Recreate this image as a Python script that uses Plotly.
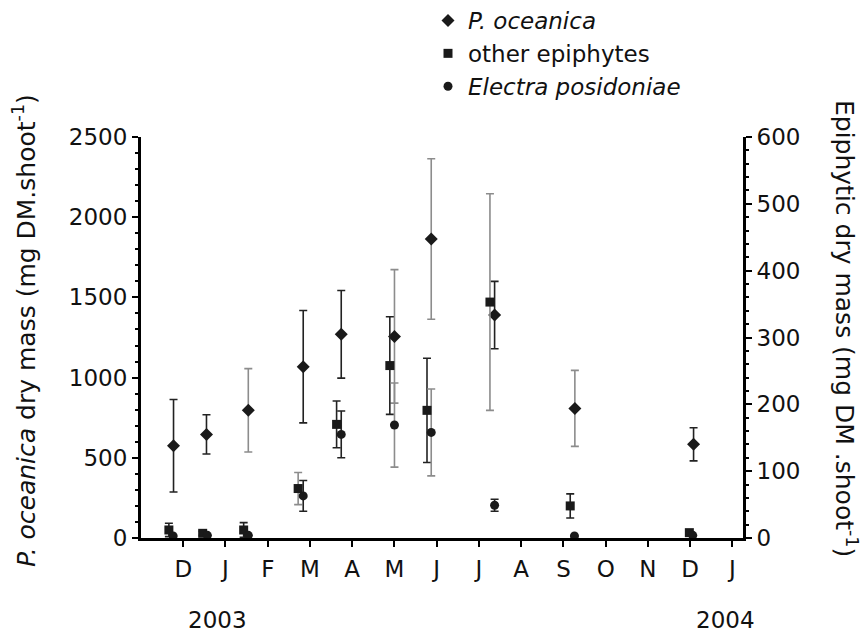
import plotly.graph_objects as go

# ---------------- data ----------------
month_ticks = list(range(1, 15))
month_labels = ["D", "J", "F", "M", "A", "M", "J", "J", "A", "S", "O", "N", "D", "J"]
year_labels = ["2003", "2004"]

# P. oceanica (left axis, mg DM.shoot-1)
poc_x = [0.77, 1.55, 2.54, 3.84, 4.74, 6.00, 6.87, 8.37, 10.27, 13.08]
poc_y = [575, 646, 796, 1068, 1270, 1257, 1864, 1390, 808, 584]
poc_err = [288, 122, 260, 350, 273, 416, 500, 210, 237, 103]

# other epiphytes (right axis)
oth_x = [0.66, 1.46, 2.43, 3.72, 4.63, 5.89, 6.77, 8.26, 10.16, 12.98]
oth_y = [12, 7, 12, 74, 170, 258, 191, 353, 48, 8]
oth_err = [10, 3, 11, 24, 35, 73, 78, 162, 18, 0]

# Electra posidoniae (right axis)
ele_x = [0.76, 1.57, 2.54, 3.84, 4.74, 6.00, 6.87, 8.37, 10.26, 13.06]
ele_y = [3, 4, 4, 63, 155, 169, 158, 49, 3, 4]
ele_err = [0, 0, 0, 23, 35, 63, 65, 9, 0, 0]

# error bar shade per point (d = dark, g = grey)
poc_shade = ["d", "d", "g", "d", "d", "g", "g", "d", "g", "d"]
oth_shade = ["d", "d", "d", "g", "d", "d", "d", "g", "d", "d"]
ele_shade = ["d", "d", "d", "d", "d", "g", "g", "d", "d", "d"]

# ---------------- style ----------------
FONT = "DejaVu Sans"
DARK = "#222222"
GREY = "#8c8c8c"
MARK = "#1a1a1a"
SHADES = {"d": DARK, "g": GREY}

fig = go.Figure()


def add_errors(xs, ys, errs, shades, yaxis):
    for key, col in SHADES.items():
        sx = [x for x, s in zip(xs, shades) if s == key]
        sy = [y for y, s in zip(ys, shades) if s == key]
        se = [e for e, s in zip(errs, shades) if s == key]
        if not sx:
            continue
        fig.add_trace(go.Scatter(
            x=sx, y=sy, mode="markers", yaxis=yaxis,
            marker=dict(size=1, opacity=0),
            error_y=dict(type="data", array=se, color=col, thickness=1.6, width=4),
            showlegend=False, hoverinfo="skip"))


add_errors(poc_x, poc_y, poc_err, poc_shade, "y")
add_errors(oth_x, oth_y, oth_err, oth_shade, "y2")
add_errors(ele_x, ele_y, ele_err, ele_shade, "y2")

fig.add_trace(go.Scatter(
    x=poc_x, y=poc_y, mode="markers", name="<i>P. oceanica</i>", yaxis="y",
    marker=dict(symbol="diamond", size=10, color=MARK)))
fig.add_trace(go.Scatter(
    x=oth_x, y=oth_y, mode="markers", name="other epiphytes", yaxis="y2",
    marker=dict(symbol="square", size=9, color=MARK)))
fig.add_trace(go.Scatter(
    x=ele_x, y=ele_y, mode="markers", name="<i>Electra posidoniae</i>", yaxis="y2",
    marker=dict(symbol="circle", size=9, color=MARK)))

# the page body has an 8 px margin: work in page pixels, convert with OFF
OFF = 8
W, H = 868 - OFF, 635 - OFF
L, R, T, B = 141 - OFF, 125, 137 - OFF, 97
PW, PH = W - L - R, H - T - B


def px_x(p):
    return (p - OFF - L) / PW


def px_y(p):
    return 1 - (p - OFF - T) / PH


axis_common = dict(showgrid=False, zeroline=False, showline=True, linecolor="black",
                   linewidth=3, ticks="outside", tickcolor="black", tickwidth=2,
                   ticklen=6, tickfont=dict(family=FONT, size=23, color="#111"))

fig.update_layout(
    width=W, height=H,
    margin=dict(l=L, r=R, t=T, b=B, pad=0, autoexpand=False),
    paper_bgcolor="white", plot_bgcolor="white",
    font=dict(family=FONT, color="#111"),
    showlegend=True,
    legend=dict(x=px_x(428), y=px_y(-1),
                xanchor="left", yanchor="top",
                font=dict(family=FONT, size=23, color="#111"),
                bgcolor="rgba(0,0,0,0)", tracegroupgap=0, itemwidth=30),
    xaxis=dict(range=[0, 14.25], tickvals=month_ticks, ticktext=month_labels,
               ticklabelstandoff=2, **axis_common),
    yaxis=dict(range=[0, 2500], tickvals=[0, 500, 1000, 1500, 2000, 2500],
               minor=dict(dtick=100, ticks="outside", ticklen=3, tickwidth=2, tickcolor="black"),
               **axis_common),
    yaxis2=dict(range=[0, 600], overlaying="y", side="right", anchor="x",
                tickvals=[0, 100, 200, 300, 400, 500, 600],
                minor=dict(dtick=20, ticks="outside", ticklen=3, tickwidth=2, tickcolor="black"),
                **axis_common),
)

annots = [
    dict(text="<i>P. oceanica</i> dry mass (mg DM.shoot<sup>-1</sup>)",
         x=24, y=331, textangle=-90, size=25),
    dict(text="Epiphytic dry mass (mg DM .shoot<sup>-1</sup>)",
         x=846, y=328, textangle=90, size=25),
    dict(text=year_labels[0], x=217, y=620, textangle=0, size=23),
    dict(text=year_labels[1], x=725, y=620, textangle=0, size=23),
]
for a in annots:
    fig.add_annotation(
        text=a["text"], xref="paper", yref="paper",
        x=px_x(a["x"]), y=px_y(a["y"]),
        xanchor="center", yanchor="middle", textangle=a["textangle"],
        showarrow=False, font=dict(family=FONT, size=a["size"], color="#111"))

fig.write_html("out.html")
